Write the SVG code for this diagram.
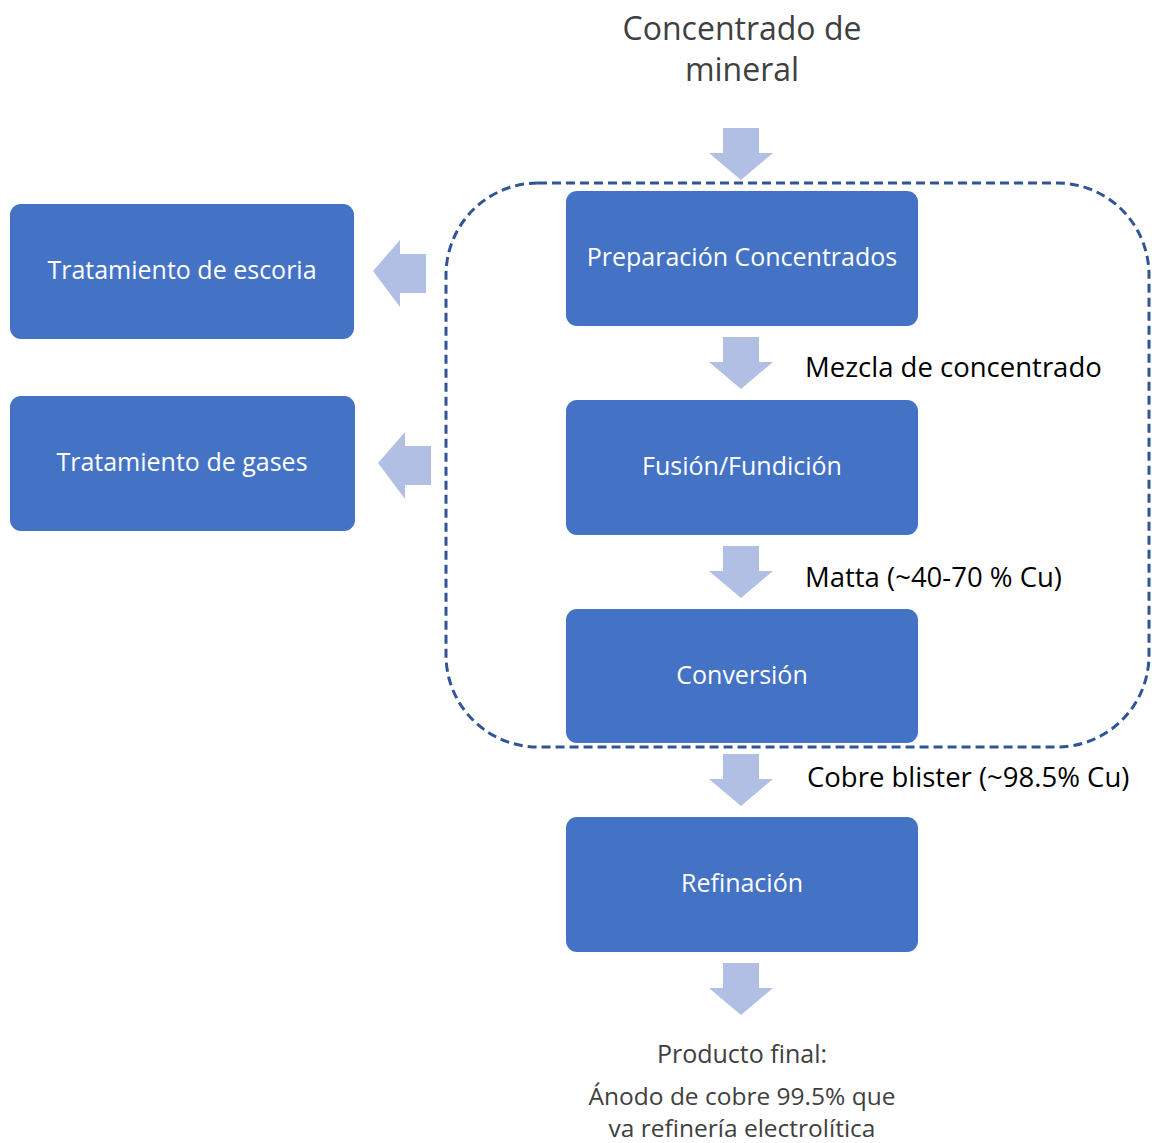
<svg xmlns="http://www.w3.org/2000/svg" width="1152" height="1143" viewBox="0 0 1152 1143">
<style>
.box{fill:#4472C4;}
.bt{fill:#ffffff;font-family:"Open Sans","Liberation Sans",sans-serif;font-size:25px;text-anchor:middle;}
.lbl{fill:#000000;font-family:"Open Sans","Liberation Sans",sans-serif;font-size:27.5px;}
.gt{fill:#404040;font-family:"Open Sans","Liberation Sans",sans-serif;text-anchor:middle;}
.arr{fill:#B0BFE3;}
</style>
<defs>
<path id="down" d="M-18,0 H18 V25 H32 L0,52 L-32,25 H-18 Z"/>
<path id="left" d="M0,0 L27,-31 V-17 H53 V22 H27 V36 Z"/>
</defs>
<g id="title">
<text class="gt" x="742" y="40" font-size="32">Concentrado de</text>
<text class="gt" x="742" y="81" font-size="32">mineral</text>
</g>
<g id="group-boundary">
<rect x="446" y="183" width="703" height="564" rx="92" ry="92" fill="none" stroke="#2F5597" stroke-width="3" stroke-dasharray="9,5"/>
</g>
<g id="connectors">
<use href="#down" class="arr" x="741" y="128"/>
<use href="#down" class="arr" x="741" y="337"/>
<use href="#down" class="arr" x="741" y="546"/>
<use href="#down" class="arr" x="741" y="754"/>
<use href="#down" class="arr" x="741" y="963"/>
<use href="#left" class="arr" x="373" y="271"/>
<use href="#left" class="arr" x="378" y="463"/>
</g>
<g id="prep"><rect class="box" x="566" y="191" width="352" height="135" rx="11"/><text class="bt" x="742" y="266">Preparación Concentrados</text></g>
<g id="fusion"><rect class="box" x="566" y="400" width="352" height="135" rx="11"/><text class="bt" x="742" y="475">Fusión/Fundición</text></g>
<g id="conversion"><rect class="box" x="566" y="609" width="352" height="134" rx="11"/><text class="bt" x="742" y="684">Conversión</text></g>
<g id="refinacion"><rect class="box" x="566" y="817" width="352" height="135" rx="11"/><text class="bt" x="742" y="892">Refinación</text></g>
<g id="escoria"><rect class="box" x="10" y="204" width="344" height="135" rx="11"/><text class="bt" x="182" y="279">Tratamiento de escoria</text></g>
<g id="gases"><rect class="box" x="10" y="396" width="345" height="135" rx="11"/><text class="bt" x="182" y="471">Tratamiento de gases</text></g>
<g id="labels">
<text class="lbl" x="805" y="377">Mezcla de concentrado</text>
<text class="lbl" x="805" y="587">Matta (~40-70 % Cu)</text>
<text class="lbl" x="807" y="787">Cobre blister (~98.5% Cu)</text>
</g>
<g id="final">
<text class="gt" x="742" y="1063" font-size="25">Producto final:</text>
<text class="gt" x="742" y="1105" font-size="24.5">Ánodo de cobre 99.5% que</text>
<text class="gt" x="742" y="1137" font-size="24.5">va refinería electrolítica</text>
</g>
</svg>
